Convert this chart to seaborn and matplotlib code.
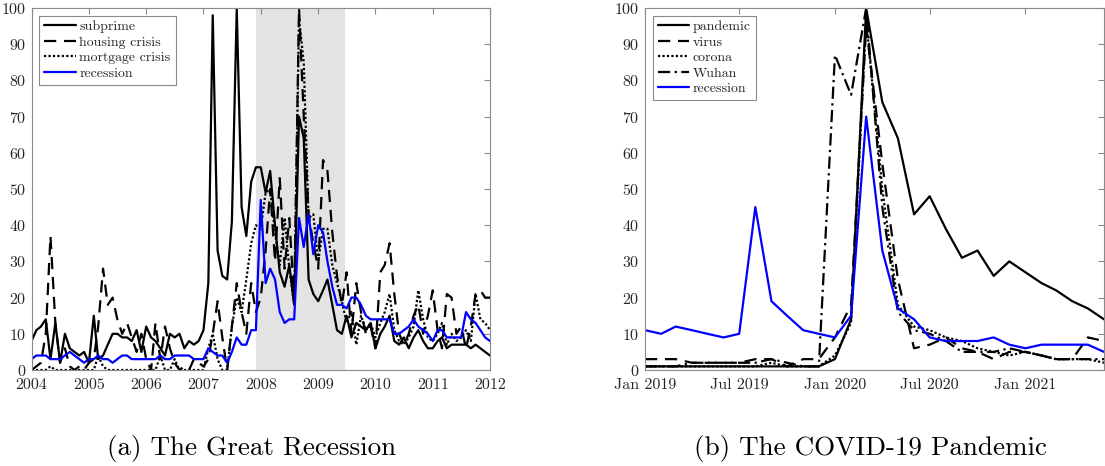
import numpy as np
import pandas as pd
import matplotlib
matplotlib.use('Agg')
import matplotlib.pyplot as plt
import matplotlib.dates as mdates
import seaborn as sns

# ---- data: monthly search interest (0-100) ----
# (a) Great Recession, Jan 2004 - Jan 2012
gr_months = pd.date_range('2004-01-01', '2012-01-01', freq='MS')
subprime = [8, 11, 12, 14, 3, 13, 2, 10, 6, 5, 4, 5,
            2, 15, 3, 4, 7, 10, 10, 9, 9, 8, 11, 5,
            12, 9, 8, 6, 4, 10, 9, 10, 6, 8, 7, 8,
            11, 24, 98, 33, 26, 25, 41, 100, 45, 37, 52, 56,
            56, 49, 55, 40, 27, 23, 29, 18, 70, 64, 25, 21,
            19, 22, 25, 18, 11, 10, 15, 9, 13, 12, 11, 13,
            6, 10, 12, 15, 8, 7, 9, 6, 9, 11, 8, 6,
            6, 8, 9, 6, 7, 7, 7, 7, 6, 7, 6, 5,
            4]
housing = [0, 1, 2, 10, 37, 13, 2, 6, 1, 0, 1, 0,
           2, 3, 12, 28, 18, 20, 14, 10, 13, 9, 5, 10,
           3, 0, 13, 3, 12, 6, 2, 0, 1, 0, 3, 2,
           1, 3, 10, 19, 9, 0, 12, 24, 16, 10, 24, 16,
           20, 33, 50, 30, 53, 28, 42, 19, 100, 70, 43, 35,
           28, 58, 55, 38, 26, 18, 27, 10, 24, 16, 10, 12,
           6, 27, 29, 35, 21, 10, 7, 10, 15, 18, 10, 15,
           22, 11, 6, 21, 20, 10, 12, 6, 12, 21, 22, 20,
           20]
mortgage = [0, 0, 0, 0, 1, 0, 0, 0, 0, 0, 0, 0,
            0, 0, 4, 1, 0, 0, 0, 0, 0, 0, 0, 0,
            0, 0, 0, 4, 0, 0, 3, 0, 0, 0, 0, 0,
            0, 6, 10, 3, 0, 0, 12, 20, 16, 25, 35, 40,
            39, 49, 50, 38, 29, 42, 28, 18, 97, 85, 42, 43,
            30, 39, 39, 29, 24, 19, 13, 16, 7, 15, 11, 13,
            9, 13, 16, 21, 11, 8, 7, 9, 12, 22, 14, 9,
            8, 10, 13, 7, 10, 8, 9, 11, 8, 21, 14, 13,
            11]
recession_gr = [3, 4, 4, 4, 3, 3, 3, 4, 5, 4, 3, 2,
                3, 3, 4, 3, 3, 2, 3, 4, 4, 3, 3, 3,
                3, 3, 3, 4, 3, 3, 4, 4, 4, 4, 3, 3,
                3, 6, 5, 4, 4, 2, 5, 9, 7, 7, 11, 11,
                47, 24, 28, 25, 16, 13, 14, 14, 42, 34, 43, 32,
                40, 38, 30, 23, 18, 18, 17, 20, 20, 18, 15, 14,
                14, 14, 14, 14, 10, 10, 11, 12, 14, 12, 11, 10,
                8, 11, 11, 9, 9, 9, 9, 16, 14, 13, 11, 9,
                8]

# (b) COVID-19, Jan 2019 - Jun 2021
cv_months = pd.date_range('2019-01-01', '2021-06-01', freq='MS')
pandemic = [1, 1, 1, 1, 1, 1, 1, 1, 1, 1, 1, 1,
            3, 14, 100, 74, 64, 43, 48, 39, 31, 33, 26, 30,
            27, 24, 22, 19, 17, 14]
virus = [3, 3, 3, 2, 2, 2, 2, 3, 3, 1, 3, 3,
         9, 18, 95, 57, 25, 6, 7, 9, 6, 5, 3, 5,
         5, 4, 3, 3, 9, 8]
corona = [1, 1, 1, 1, 1, 1, 1, 1, 2, 1, 1, 1,
          4, 13, 97, 50, 18, 12, 11, 9, 8, 6, 5, 4,
          5, 4, 3, 3, 3, 2]
wuhan = [1, 1, 1, 2, 2, 2, 2, 2, 3, 2, 1, 1,
         87, 76, 100, 45, 16, 11, 10, 8, 5, 5, 5, 6,
         5, 4, 3, 3, 3, 3]
recession_cv = [11, 10, 12, 11, 10, 9, 10, 45, 19, 15, 11, 10,
                9, 15, 70, 33, 17, 14, 9, 8, 8, 8, 9, 7,
                6, 7, 7, 7, 7, 5]

captions = ['(a) The Great Recession', '(b) The COVID-19 Pandemic']

# ---- style ----
sns.set_style('white')
plt.rcParams['font.family'] = ['cmr10', 'DejaVu Serif']
plt.rcParams['mathtext.fontset'] = 'cm'
plt.rcParams['axes.formatter.use_mathtext'] = True
spine_col = '#8a8a8a'
lw = 1.6

fig = plt.figure(figsize=(11.05, 4.66), dpi=100)
ax1 = fig.add_axes([31.5 / 1105, 96 / 466, 458.5 / 1105, 362 / 466])
ax2 = fig.add_axes([645 / 1105, 96 / 466, 459 / 1105, 362 / 466])

# recession shading
ax1.axvspan(pd.Timestamp('2007-12-01'), pd.Timestamp('2009-06-20'),
            color='#e3e3e3', lw=0, zorder=0)

sns.lineplot(x=gr_months, y=subprime, ax=ax1, color='black', lw=lw,
             linestyle='-', label='subprime')
sns.lineplot(x=gr_months, y=housing, ax=ax1, color='black', lw=lw,
             linestyle=(0, (5.5, 3.5)), label='housing crisis')
sns.lineplot(x=gr_months, y=mortgage, ax=ax1, color='black', lw=lw,
             linestyle=(0, (1, 1)), label='mortgage crisis')
sns.lineplot(x=gr_months, y=recession_gr, ax=ax1, color='#0000ff', lw=lw,
             linestyle='-', label='recession')

sns.lineplot(x=cv_months, y=pandemic, ax=ax2, color='black', lw=lw,
             linestyle='-', label='pandemic')
sns.lineplot(x=cv_months, y=virus, ax=ax2, color='black', lw=lw,
             linestyle=(0, (5.5, 3.5)), label='virus')
sns.lineplot(x=cv_months, y=corona, ax=ax2, color='black', lw=lw,
             linestyle=(0, (1, 1)), label='corona')
sns.lineplot(x=cv_months, y=wuhan, ax=ax2, color='black', lw=lw,
             linestyle=(0, (5.5, 2, 1, 2)), label='Wuhan')
sns.lineplot(x=cv_months, y=recession_cv, ax=ax2, color='#0000ff', lw=lw,
             linestyle='-', label='recession')

ax1.set_xlim(pd.Timestamp('2004-01-01'), pd.Timestamp('2012-01-01'))
ax1.xaxis.set_major_locator(mdates.YearLocator())
ax1.xaxis.set_major_formatter(mdates.DateFormatter('%Y'))
ax2.set_xlim(pd.Timestamp('2019-01-01'), pd.Timestamp('2021-06-01'))
ax2.xaxis.set_major_locator(mdates.MonthLocator(bymonth=(1, 7)))
ax2.xaxis.set_major_formatter(mdates.DateFormatter('%b %Y'))

for ax in [ax1, ax2]:
    ax.set_ylim(0, 100)
    ax.set_yticks(np.arange(0, 101, 10))
    ax.set_xlabel('')
    ax.set_ylabel('')
    for s in ax.spines.values():
        s.set_visible(True)
        s.set_color(spine_col)
        s.set_linewidth(0.8)
    ax.tick_params(direction='in', length=4, width=0.8, color=spine_col,
                   top=True, right=True, labelsize=11.5, labelcolor='#262626')
    ax.tick_params(axis='x', pad=6)
    ax.tick_params(axis='y', pad=4)
    leg = ax.legend(loc='upper left', fontsize=10, frameon=True,
                    fancybox=False, edgecolor=spine_col, framealpha=1,
                    handlelength=2.3, handletextpad=0.25, labelspacing=0.2,
                    borderpad=0.35, borderaxespad=0.55)
    leg.get_frame().set_linewidth(0.8)
    ax.set_facecolor('white')

fig.text(252 / 1105, 1 - 448 / 466, captions[0], ha='center', va='center',
         fontsize=19.5, color='black')
fig.text(871 / 1105, 1 - 448 / 466, captions[1], ha='center', va='center',
         fontsize=19.5, color='black')

fig.savefig('out.png', dpi=100)
